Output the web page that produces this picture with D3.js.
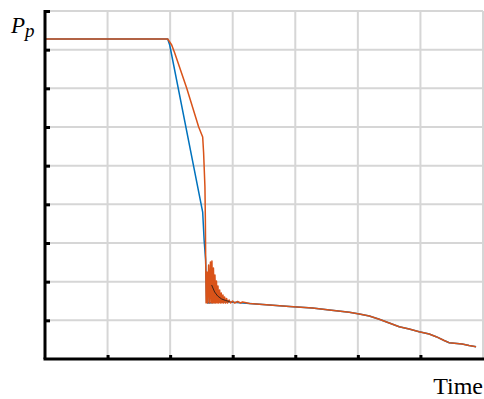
<!DOCTYPE html>
<html>
<head>
<meta charset="utf-8">
<script src="https://cdn.jsdelivr.net/npm/d3@7"></script>
<style>
  html, body { margin: 0; padding: 0; background: #fff; }
  svg { display: block; }
</style>
</head>
<body>
<div id="svg"></div>
<script>
// grid ticks (no labels on this chart)
const xTicks = [0, 1, 2, 3, 4, 5, 6, 7];
const yTicks = [0, 1, 2, 3, 4, 5, 6, 7, 8, 9];

// blue series: [time, Pp]
const blueSeries = [
  [0, 8.276], [1.961, 8.276], [1.993, 8.121], [2.520, 3.802], [2.543, 3.078],
  [2.567, 2.560], [2.583, 1.448], [2.594, 2.121], [2.604, 1.448], [2.791, 1.474],
  [2.950, 1.474], [3.269, 1.435], [3.588, 1.397], [3.907, 1.358], [4.274, 1.319],
  [4.545, 1.267], [4.864, 1.208], [5.023, 1.164], [5.183, 1.112], [5.342, 1.027],
  [5.502, 0.931], [5.661, 0.835], [5.820, 0.776], [5.980, 0.706], [6.140, 0.647],
  [6.251, 0.577], [6.379, 0.478], [6.458, 0.422], [6.666, 0.388], [6.777, 0.349],
  [6.889, 0.318]
];

// orange series: [time, Pp], includes the damped ringing after the drop
const orangeSeries = [
  [0, 8.276], [1.961, 8.276], [2.025, 8.121], [2.073, 7.914], [2.264, 7.008],
  [2.456, 5.999], [2.520, 5.741], [2.535, 5.328], [2.556, 4.448], [2.563, 3.595],
  [2.567, 2.741], [2.575, 1.448],
  [2.588, 2.250], [2.599, 1.448], [2.615, 2.431], [2.628, 1.448], [2.644, 2.509],
  [2.655, 1.448], [2.668, 2.534], [2.679, 1.448], [2.692, 2.353], [2.703, 1.448],
  [2.716, 2.172], [2.727, 1.448], [2.740, 2.017], [2.751, 1.448], [2.764, 1.888],
  [2.775, 1.448], [2.791, 1.784], [2.802, 1.448], [2.817, 1.707], [2.828, 1.448],
  [2.844, 1.655], [2.854, 1.448], [2.870, 1.604], [2.886, 1.448], [2.902, 1.565],
  [2.918, 1.448], [2.942, 1.526], [2.966, 1.448], [2.998, 1.500], [3.030, 1.448],
  [3.078, 1.487], [3.126, 1.448], [3.157, 1.474],
  [3.269, 1.435], [3.588, 1.397], [3.907, 1.358], [4.274, 1.319],
  [4.545, 1.267], [4.864, 1.208], [5.023, 1.164], [5.183, 1.112], [5.342, 1.027],
  [5.502, 0.931], [5.661, 0.835], [5.820, 0.776], [5.980, 0.706], [6.140, 0.647],
  [6.251, 0.577], [6.379, 0.478], [6.458, 0.422], [6.666, 0.388], [6.777, 0.349],
  [6.889, 0.318]
];

// thin dark mean curve through the ringing
const meanSeries = [
  [2.663, 1.914], [2.711, 1.733], [2.759, 1.629], [2.823, 1.552], [2.886, 1.513],
  [2.950, 1.487]
];

const width = 484,
    height = 399,
    margin = { top: 11, right: 0, bottom: 40, left: 45 };

const x = d3.scaleLinear()
    .domain([0, 7])
    .range([margin.left, width - margin.right - 1]);

const y = d3.scaleLinear()
    .domain([0, 9])
    .range([height - margin.bottom, margin.top]);

const svg = d3.select("#svg")
    .append("svg")
    .attr("width", width)
    .attr("height", height);

// grid
svg.append("g")
    .attr("stroke", "#d6d6d6")
    .attr("stroke-width", 2)
    .selectAll("line.v")
    .data(xTicks.slice(1))
    .join("line")
    .attr("x1", d => x(d)).attr("x2", d => x(d))
    .attr("y1", y(9)).attr("y2", y(0));

svg.append("g")
    .attr("stroke", "#d6d6d6")
    .attr("stroke-width", 2)
    .selectAll("line.h")
    .data(yTicks.slice(1))
    .join("line")
    .attr("x1", x(0)).attr("x2", x(7))
    .attr("y1", d => y(d)).attr("y2", d => y(d));

const line = d3.line()
    .x(d => x(d[0]))
    .y(d => y(d[1]));

svg.append("path")
    .datum(blueSeries)
    .attr("fill", "none")
    .attr("stroke", "#0072BD")
    .attr("stroke-width", 1.5)
    .attr("d", line);

svg.append("path")
    .datum(orangeSeries)
    .attr("fill", "none")
    .attr("stroke", "#D95319")
    .attr("stroke-width", 1.5)
    .attr("stroke-linejoin", "round")
    .attr("d", line);

svg.append("path")
    .datum(meanSeries)
    .attr("fill", "none")
    .attr("stroke", "#3a2218")
    .attr("stroke-width", 1)
    .attr("d", line);

// axes: thick black, ticks inward, no labels
const xAxis = d3.axisBottom(x)
    .tickValues(xTicks.slice(1, 7))
    .tickSizeInner(-4)
    .tickSizeOuter(0)
    .tickFormat("");

const yAxis = d3.axisLeft(y)
    .tickValues(yTicks.slice(1))
    .tickSizeInner(-5)
    .tickSizeOuter(0)
    .tickFormat("");

svg.append("g")
    .attr("transform", `translate(0,${y(0)})`)
    .call(xAxis)
    .call(g => g.select(".domain").attr("stroke-width", 3).attr("d", `M${x(0) - 1.5},0H${x(7) + 1}`))
    .call(g => g.selectAll(".tick line").attr("stroke-width", 3));

svg.append("g")
    .attr("transform", `translate(${x(0)},0)`)
    .call(yAxis)
    .call(g => g.select(".domain").attr("stroke-width", 3).attr("d", `M0,${y(9) - 1}V${y(0)}`))
    .call(g => g.selectAll(".tick line").attr("stroke-width", 3));

// labels
const pLabel = svg.append("text")
    .attr("x", 11)
    .attr("y", 33)
    .attr("font-family", "'Liberation Serif', 'DejaVu Serif', serif")
    .attr("font-style", "italic")
    .attr("font-size", 23)
    .attr("fill", "#000");
pLabel.append("tspan").text("P");
pLabel.append("tspan")
    .attr("dy", 4)
    .attr("font-size", 19)
    .text("p");

svg.append("text")
    .attr("x", 483)
    .attr("y", 394)
    .attr("text-anchor", "end")
    .attr("font-family", "'Liberation Serif', 'Times New Roman', serif")
    .attr("font-size", 24)
    .attr("fill", "#000")
    .text("Time");
</script>
</body>
</html>
